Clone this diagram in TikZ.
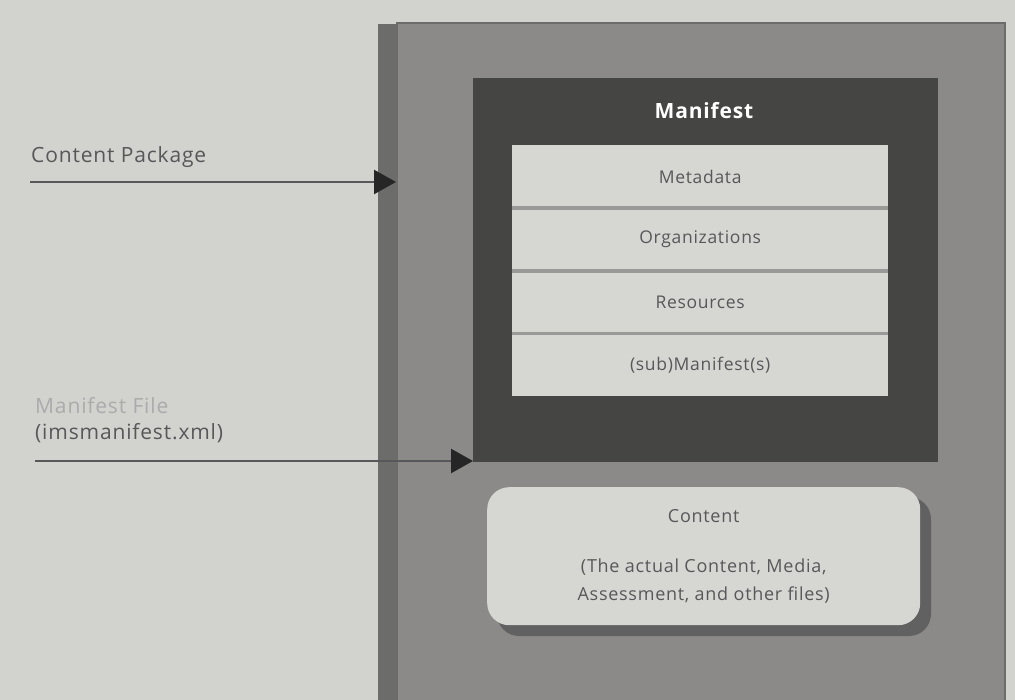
\documentclass[tikz,border=0pt]{standalone}
\usepackage{fontspec}
\setmainfont[LetterSpace=4]{Open Sans}
\usetikzlibrary{arrows.meta}
\definecolor{bg}{HTML}{D2D2CE}
\definecolor{pkg}{HTML}{8C8A88}
\definecolor{pkgshadow}{HTML}{6C6C6A}
\definecolor{mani}{HTML}{454543}
\definecolor{rowfill}{HTML}{D6D6D2}
\definecolor{rowline}{HTML}{999997}
\definecolor{lbl}{HTML}{58585A}
\definecolor{faint}{HTML}{ABABAB}
\tikzset{
  rowbox/.style={fill=rowfill, minimum width=376pt, minimum height=62.5pt, inner sep=0pt, font=\fontsize{17.5}{20}\selectfont, text=lbl},
  sepline/.style={draw=rowline, line width=3.5pt},
  lbltext/.style={anchor=west, inner sep=0pt, font=\fontsize{21}{24}\selectfont, text=lbl},
  pointer/.style={draw=lbl, line width=2.5pt, -{Triangle[length=22pt,width=24pt,fill=black!85,color=black!85]}}
}
\begin{document}
\begin{tikzpicture}[x=1pt,y=-1pt]
\useasboundingbox (0,0) rectangle (1015,700);
\fill[bg] (0,0) rectangle (1015,700);
% package box
\fill[pkgshadow] (378,24) rectangle (1006,700);
\node[fill=pkg, draw=pkgshadow, line width=2pt, minimum width=608pt, minimum height=680pt, inner sep=0pt, anchor=north west] (pkg) at (396,22) {};
% manifest
\node[fill=mani, minimum width=465pt, minimum height=384pt, inner sep=0pt, anchor=north west] (mani) at (473,78) {};
\node[text=white, font=\bfseries\fontsize{21}{24}\selectfont] (mtitle) at (704,111) {Manifest};
\node[rowbox, anchor=north west] (r1) at (512,145) {Metadata};
\node[rowbox, anchor=north] (r2) at (r1.south) {Organizations};
\node[rowbox, anchor=north] (r3) at (r2.south) {Resources};
\node[rowbox, anchor=north] (r4) at (r3.south) {(sub)Manifest(s)};
\draw[sepline] (r1.south west) -- (r1.south east);
\draw[sepline] (r2.south west) -- (r2.south east);
\draw[sepline] (r3.south west) -- (r3.south east);
% content
\fill[black!62, rounded corners=22pt] (497,497) rectangle (931,636);
\node[fill=rowfill, rounded corners=22pt, minimum width=433pt, minimum height=138pt, inner sep=0pt, anchor=north west, align=center, text=lbl, font=\fontsize{18}{28}\selectfont] (content) at (487,487) {\raisebox{8pt}{Content}\\[14pt](The actual Content, Media,\\Assessment, and other files)};
% labels
\node[lbltext] (l1) at (31,157) {Content Package};
\node[lbltext, text=faint] (l2a) at (35,406) {Manifest File};
\node[lbltext] (l2b) at (35,433) {(imsmanifest.xml)};
\coordinate (s1) at (30,182);
\coordinate (s2) at (35,461);
\draw[pointer] (s1) -- (s1 -| pkg.west);
\draw[pointer] (s2) -- (s2 -| mani.west);
\end{tikzpicture}
\end{document}
